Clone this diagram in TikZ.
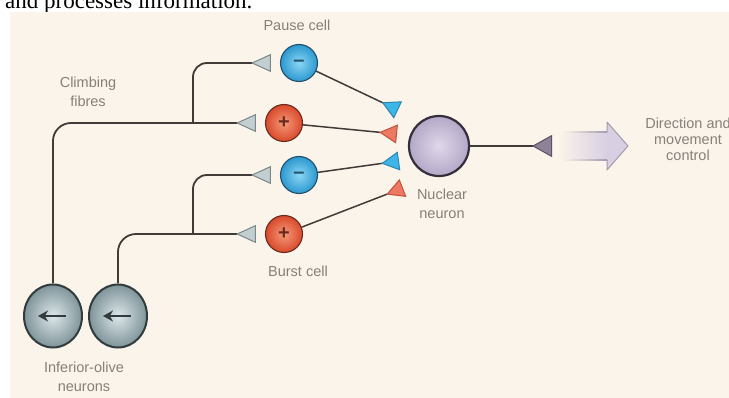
\documentclass[tikz,border=0pt]{standalone}
\usepackage{fontspec}
\newfontfamily\lblfont{Liberation Sans}
\newfontfamily\pagefont{Liberation Serif}
\usetikzlibrary{arrows.meta,shapes.geometric,calc}

\definecolor{paper}{HTML}{FBF4EA}
\definecolor{lbl}{HTML}{858079}
\definecolor{axon}{HTML}{403B37}
\definecolor{gterm}{HTML}{C3CED1}
\definecolor{gtermD}{HTML}{7A8789}
\definecolor{bluein}{HTML}{8AD6F5}
\definecolor{blueout}{HTML}{2C98CF}
\definecolor{blueD}{HTML}{234F68}
\definecolor{redin}{HTML}{F59A78}
\definecolor{redout}{HTML}{D9492C}
\definecolor{redD}{HTML}{6A2A1E}
\definecolor{lavin}{HTML}{E0D8EA}
\definecolor{lavout}{HTML}{B3A8C7}
\definecolor{lavD}{HTML}{352F3C}
\definecolor{olivein}{HTML}{DCE7EA}
\definecolor{oliveout}{HTML}{7F9499}
\definecolor{oliveD}{HTML}{323C3E}
\definecolor{bterm}{HTML}{3DB5E6}
\definecolor{btermD}{HTML}{2D86B0}
\definecolor{rterm}{HTML}{EC7A62}
\definecolor{rtermD}{HTML}{C4503C}
\definecolor{oterm}{HTML}{8C8399}
\definecolor{otermD}{HTML}{5A5163}
\definecolor{bigarrow}{HTML}{D8CFE2}
\definecolor{bigarrowD}{HTML}{A49BAE}

\begin{document}
\begin{tikzpicture}[x=1pt,y=-1pt,
  labeltext/.style={font=\lblfont\fontsize{14.5}{19}\selectfont, text=lbl, align=center, inner sep=0pt},
  pausecell/.style={circle, minimum size=37pt, inner sep=0pt, shading=radial,
    inner color=bluein, outer color=blueout, draw=blueD, line width=1.1pt,
    text=blueD, font=\lblfont\bfseries\fontsize{20}{20}\selectfont},
  burstcell/.style={circle, minimum size=37pt, inner sep=0pt, shading=radial,
    inner color=redin, outer color=redout, draw=redD, line width=1.1pt,
    text=redD, font=\lblfont\bfseries\fontsize{20}{20}\selectfont},
  olive/.style={ellipse, minimum width=58pt, minimum height=63pt, inner sep=0pt,
    shading=radial, inner color=olivein, outer color=oliveout, draw=oliveD, line width=2pt,
    path picture={\draw[oliveD, line width=2.6pt, -{Stealth[length=10pt,width=11pt]}]
      ([xshift=13pt]path picture bounding box.center) -- ([xshift=-15pt]path picture bounding box.center);}},
  nucleus/.style={circle, minimum size=60pt, inner sep=0pt, shading=radial,
    inner color=lavin, outer color=lavout, draw=lavD, line width=2.2pt},
  fibre/.style={draw=axon, line width=1.8pt, rounded corners=18pt},
  fibretip/.style={-{Triangle[reversed, length=20pt, width=18pt, line width=1pt, fill=gterm, color=gtermD]}, shorten >=9pt},
  pathway/.style={draw=axon, line width=1.5pt},
  bluetip/.style={-{Triangle[reversed, length=18pt, width=19pt, line width=1pt, fill=bterm, color=btermD]}},
  redtip/.style={-{Triangle[reversed, length=18pt, width=19pt, line width=1pt, fill=rterm, color=rtermD]}},
  outtip/.style={-{Triangle[reversed, length=20pt, width=22pt, line width=1pt, fill=oterm, color=otermD]}}
]
\useasboundingbox (0,0) rectangle (729,398);
\clip (0,0) rectangle (729,398);
\fill[white] (0,0) rectangle (729,398);

% running text of the page above the figure
\node[anchor=base west, inner sep=0pt, font=\pagefont\fontsize{23}{23}\selectfont] (pageline) at (5,8.5) {and processes information.};

% figure panel
\fill[paper] (10,12) rectangle (729,398);

% cells
\node[pausecell] (pause1) at (299,63) {–};
\node[burstcell] (burst1) at (284,123) {+};
\node[pausecell] (pause2) at (299,175) {–};
\node[burstcell] (burst2) at (284,234) {+};
\node[nucleus] (nuc) at (439,146) {};
\node[olive] (olive1) at (53,316) {};
\node[olive] (olive2) at (118,316) {};

% branch points of the climbing fibres
\coordinate (j1) at (193,123);
\coordinate (j2) at (193,234);

% climbing fibres
\draw[fibre, fibretip] (olive1.north) |- (burst1);
\draw[fibre, fibretip, rounded corners=14pt] (j1) |- (pause1);
\draw[fibre, fibretip] (olive2.north) |- (burst2);
\draw[fibre, fibretip, rounded corners=14pt] (j2) |- (pause2);

% synapse end points on the nuclear neuron
\coordinate (tp1) at (398,110);
\coordinate (tb1) at (397,134);
\coordinate (tp2) at (399,161);
\coordinate (tb2) at (403,188);
\coordinate (tout) at (552,146);

\draw[pathway, bluetip] (pause1) -- (tp1);
\draw[pathway, redtip] (burst1) -- (tb1);
\draw[pathway, bluetip] (pause2) -- (tp2);
\draw[pathway, redtip] (burst2) -- (tb2);
\draw[pathway, outtip] (nuc) -- (tout);

% output arrow, fading in from the left
\shade[left color=paper, right color=bigarrow] (558,132) rectangle (607.5,160);
\fill[bigarrow] (607,122) -- (628,146) -- (607,170) -- cycle;
\shade[left color=paper, right color=bigarrowD] (562,131.5) rectangle (607,132.5);
\shade[left color=paper, right color=bigarrowD] (562,159.5) rectangle (607,160.5);
\draw[bigarrowD, line width=1pt, line join=round] (607,132) -- (607,122) -- (628,146) -- (607,170) -- (607,160);

% labels
\node[labeltext] (pauselbl) at (297,25) {Pause cell};
\node[labeltext] (climblbl) at (88,92) {Climbing\\fibres};
\node[labeltext] (burstlbl) at (298,271) {Burst cell};
\node[labeltext] (nuclbl) at (442,204) {Nuclear\\neuron};
\node[labeltext] (olivelbl) at (84,377) {Inferior-olive\\neurons};
\node[labeltext, font=\lblfont\fontsize{14.5}{16}\selectfont] (outlbl) at (688,139) {Direction and\\movement\\control};
\end{tikzpicture}
\end{document}
